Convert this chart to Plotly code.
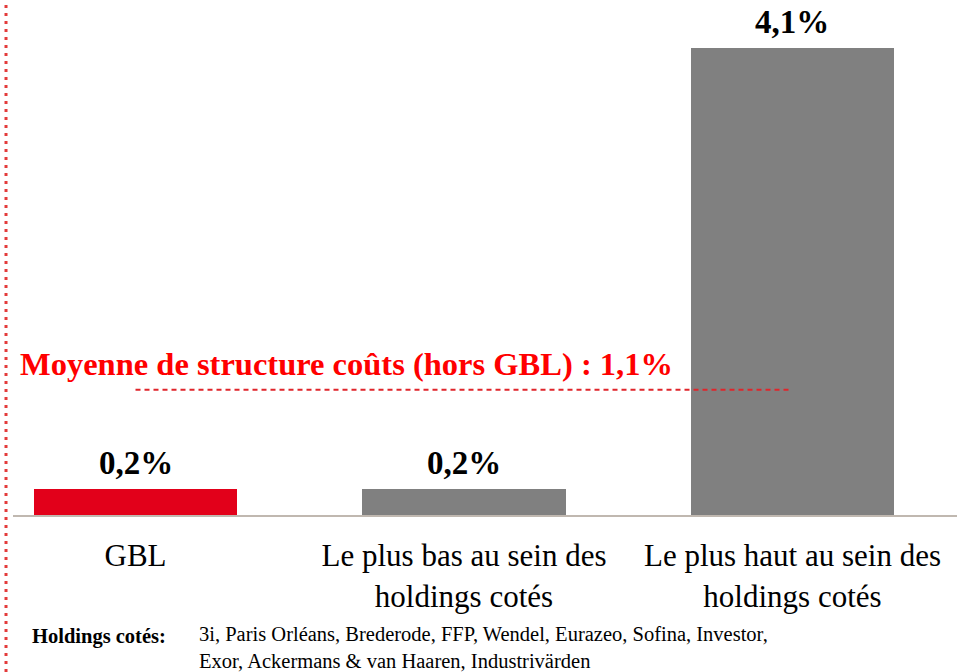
import plotly.graph_objects as go

# ---- data ----
categories = ["GBL", "Le plus bas au sein des<br>holdings cotés", "Le plus haut au sein des<br>holdings cotés"]
values = [0.23, 0.23, 4.1]
bar_colors = ["#E2001A", "#808080", "#808080"]
average_value = 1.1
average_label = "Moyenne de structure coûts (hors GBL) : "
footnote_title = "Holdings cotés:"
footnote_text = ("3i, Paris Orléans, Brederode, FFP, Wendel, Eurazeo, Sofina, Investor,<br>"
                 "Exor, Ackermans &amp; van Haaren, Industrivärden")

SERIF = "Liberation Serif, Times New Roman, serif"
x_pos = list(range(len(categories)))

fig = go.Figure()
fig.add_trace(go.Bar(
    x=x_pos, y=values,
    marker=dict(color=bar_colors, line=dict(width=0)),
    width=0.618,
    hoverinfo="skip",
))

# value labels above bars
for xi, v in zip(x_pos, values):
    fig.add_annotation(
        x=xi, y=v, xref="x", yref="y", yanchor="bottom", yshift=6,
        text="<b>" + f"{v:.1f}".replace(".", ",") + "%</b>",
        showarrow=False,
        font=dict(family=SERIF, size=33, color="black"),
    )

# average dashed line (from first to last category)
fig.add_trace(go.Scatter(
    x=[x_pos[0], x_pos[-1]], y=[average_value, average_value],
    mode="lines",
    line=dict(color="#E0252B", width=2, dash="5px,4px"),
    hoverinfo="skip",
))

avg_txt = f"{average_value:.1f}".replace(".", ",") + "%"
fig.add_annotation(
    xref="paper", yref="y", x=0.0053, y=average_value, yshift=26,
    xanchor="left", yanchor="middle",
    text="<b>" + average_label + avg_txt + "</b>",
    showarrow=False,
    font=dict(family=SERIF, size=32.5, color="#FF0000"),
)

# footnote
fig.add_annotation(
    xref="paper", yref="paper", x=0.018, y=-0.235,
    xanchor="left", yanchor="middle",
    text="<b>" + footnote_title + "</b>", showarrow=False,
    font=dict(family=SERIF, size=20.5, color="black"),
)
fig.add_annotation(
    xref="paper", yref="paper", x=0.195, y=-0.257,
    xanchor="left", yanchor="middle", align="left",
    text=footnote_text, showarrow=False,
    font=dict(family=SERIF, size=20.5, color="black"),
)

# left dotted red vertical line
fig.add_shape(
    type="line", xref="paper", yref="paper",
    x0=-0.0074, x1=-0.0074, y0=-0.305, y1=1.0,
    line=dict(color="#E33B3B", width=3, dash="3px,5px"),
)

fig.update_layout(
    width=961, height=672,
    margin=dict(l=13, r=4, t=0, b=157),
    paper_bgcolor="white", plot_bgcolor="white",
    showlegend=False,
    xaxis=dict(
        range=[-0.3729, 2.5008],
        tickvals=x_pos, ticktext=categories,
        tickfont=dict(family=SERIF, size=31, color="black"),
        showline=True, linecolor="#C0B8B0", linewidth=2,
        showgrid=False, zeroline=False, ticks="",
        ticklabelstandoff=12,
        fixedrange=True,
    ),
    yaxis=dict(
        range=[0, 4.52],
        visible=False, showgrid=False, zeroline=False,
        fixedrange=True,
    ),
    bargap=0,
)

fig.write_html("out.html", config={"displayModeBar": False},
               post_script="document.body.style.margin='0';")
